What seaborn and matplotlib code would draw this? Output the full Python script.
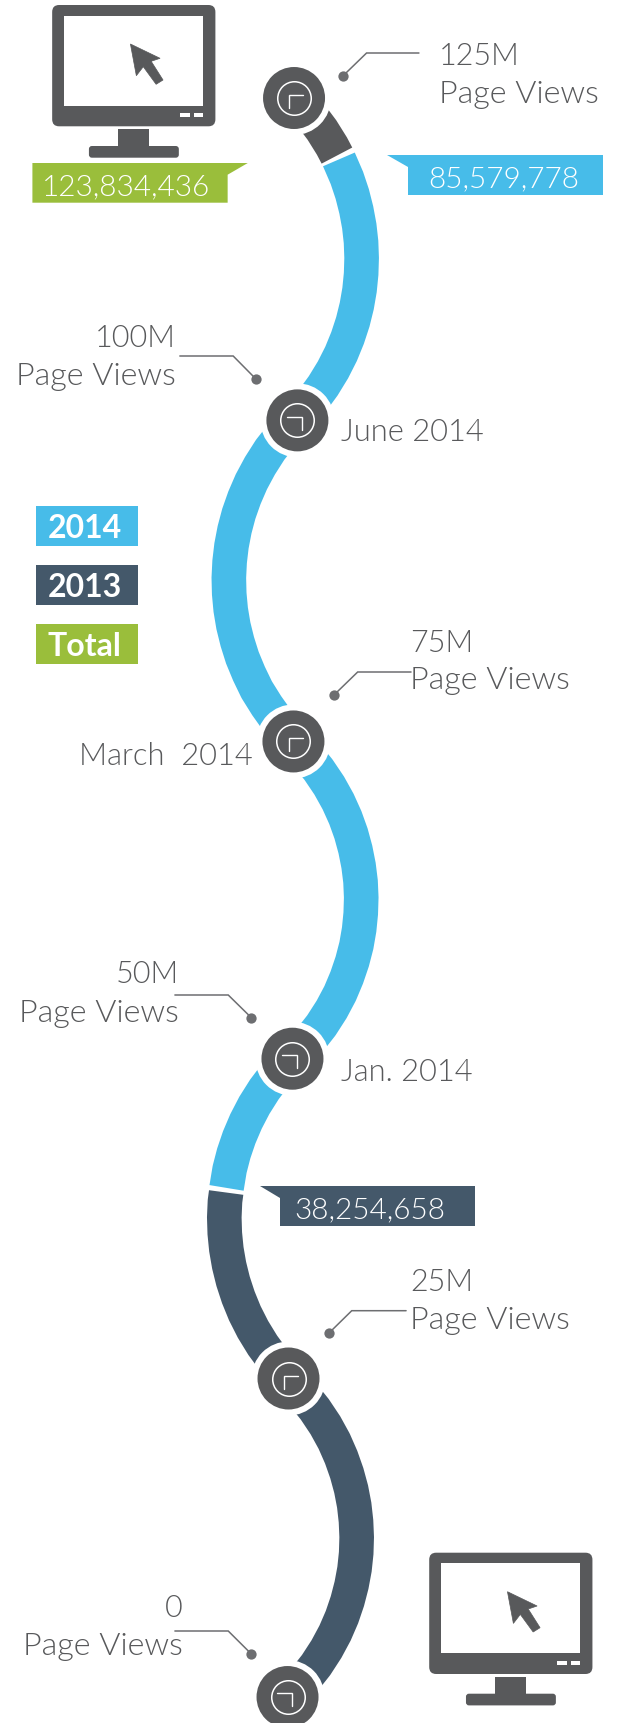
import numpy as np
import pandas as pd
import matplotlib
matplotlib.use("Agg")
import matplotlib.pyplot as plt
import seaborn as sns
from matplotlib.patches import FancyBboxPatch, Polygon, Rectangle

# ---- data ----
gray_views = [125, 123.75, 122.5, 121.25, 120.5]
gray_pos = [299, 313.7, 325.8, 335.9, 341]
blue_views = [120.2, 118.75, 117.5, 116.25, 115, 113.75, 112.5, 111.25, 110, 108.75, 107.5, 106.25, 105, 103.75, 102.5, 101.25, 100,
              98.75, 97.5, 96.25, 95, 93.75, 92.5, 91.25, 90, 88.75, 87.5, 86.25, 85, 83.75, 82.5, 81.25, 80, 78.75, 77.5, 76.25, 75,
              73.75, 72.5, 71.25, 70, 68.75, 67.5, 66.25, 65, 63.75, 62.5, 61.25, 60, 58.75, 57.5, 56.25, 55, 53.75, 52.5, 51.25, 50,
              48.75, 47.5, 46.25, 45, 43.75, 42.5, 41.25, 39.8]
blue_pos = [343, 351.1, 356.5, 360.6, 363.6, 365.4, 366, 365.5, 363.9, 361.1, 357.1, 351.8, 345.2, 337, 327.1, 315.3, 301,
            286.1, 273.4, 263.1, 254.4, 247.4, 241.7, 237.4, 234.3, 232.4, 231.6, 232, 233.5, 236.2, 240.2, 245.3, 252, 259.8, 269.9, 281.4, 295.5,
            309, 322.3, 333.2, 342.2, 349.5, 355.3, 359.7, 362.9, 364.9, 365.6, 365.1, 363.5, 360.7, 356.5, 351, 344.2, 335.6, 325.2, 312.5, 297.1,
            279.8, 267.6, 257.4, 249, 242.1, 236.6, 232.4, 229.3]
dark_views = [39.44, 38.75, 37.5, 36.25, 35, 33.75, 32.5, 31.25, 30, 28.75, 27.5, 26.25, 25,
              23.75, 22.5, 21.25, 20, 18.75, 17.5, 16.25, 15, 13.75, 12.5, 11.25, 10, 8.75, 7.5, 6.25, 5, 3.75, 2.5, 1.25, 0]
dark_pos = [228.9, 227.7, 227, 227.5, 229.1, 231.9, 235.9, 241.2, 247.8, 256, 265.9, 277.8, 292.2,
            305.5, 318.5, 329.3, 338.2, 345.3, 351, 355.4, 358.5, 360.3, 361, 360.5, 358.8, 355.8, 351.6, 346.1, 339.1, 330.4, 319.9, 307.1, 291.5]

node_views = [125, 99.8, 74.7, 49.9, 24.9, 0]
node_pos = [297.6, 301, 297, 296, 292, 291]

milestones = ["125M", "100M", "75M", "50M", "25M", "0"]
dates = ["June 2014", "March  2014", "Jan. 2014"]
totals = ["123,834,436", "85,579,778", "38,254,658"]
legend_labels = ["2014", "2013", "Total"]

BLUE, NAVY, GREEN, GRAY = "#47BCE9", "#44586A", "#9ABE3B", "#58595B"
LINE = "#6D6E71"

sns.set_theme(style="white")
plt.rcParams["font.family"] = ["Lato", "DejaVu Sans"]
W, H = 620, 1724
XMAX = 627.5
fig = plt.figure(figsize=(W / 100, H / 100), dpi=100, facecolor="white")

# main axes: x in horizontal position, y in page views (millions)
ax = fig.add_axes([0, 0, 1, 1])
ax.set_xlim(0, XMAX)
ax.set_ylim(-2.03, 132.74)
ax.axis("off")

road = pd.concat([
    pd.DataFrame({"views": gray_views, "pos": gray_pos, "part": "Other"}),
    pd.DataFrame({"views": blue_views, "pos": blue_pos, "part": "2014"}),
    pd.DataFrame({"views": dark_views, "pos": dark_pos, "part": "2013"}),
])
sns.lineplot(data=road, x="pos", y="views", hue="part",
             hue_order=["Other", "2014", "2013"],
             palette={"Other": GRAY, "2014": BLUE, "2013": NAVY},
             estimator=None, sort=False, legend=False, ax=ax,
             linewidth=34.6 * 0.72, solid_capstyle="butt", solid_joinstyle="round")

nodes = pd.DataFrame({"views": node_views, "pos": node_pos})
for diam, face, edge, lw in [(74, "white", "none", 0), (62, GRAY, "none", 0), (33.5, GRAY, "white", 1.1)]:
    sns.scatterplot(data=nodes, x="pos", y="views", s=(diam * 0.72) ** 2, color=face,
                    edgecolor=edge, linewidth=lw, legend=False, ax=ax, zorder=5, clip_on=False)
ax.set_xlim(0, XMAX)
ax.set_ylim(-2.03, 132.74)
ax.axis("off")

# overlay axes in pixels for annotation furniture
ov = fig.add_axes([0, 0, 1, 1], facecolor="none")
ov.set_xlim(0, XMAX)
ov.set_ylim(H, 0)
ov.axis("off")

# clock hands inside the nodes
px_nodes = [(297.6, 99), (301, 421), (297, 742), (296, 1059), (292, 1380), (291, 1698)]
for i, (cx, cy) in enumerate(px_nodes):
    if i % 2 == 0:
        xs = [cx + 9.5, cx - 4.6, cx - 4.6]
    else:
        xs = [cx - 10.5, cx + 4.6, cx + 4.6]
    ys = [cy - 3.5, cy - 3.5, cy + 9.5]
    ov.plot(xs, ys, color="white", lw=1.0, solid_joinstyle="miter", zorder=7)


def monitor(dx, dy):
    ov.add_patch(FancyBboxPatch((52.8 + 5 + dx, 6 + 5 + dy), 165.2 - 10, 121.3 - 10,
                                boxstyle="round,pad=5,rounding_size=7", fc=GRAY, ec="none"))
    ov.add_patch(Rectangle((65 + dx, 16.7 + dy), 140, 90, fc="white", ec="none"))
    for a, b in [(182, 192), (196, 205)]:
        ov.add_patch(Rectangle((a + dx, 114.3 + dy), b - a, 3.8, fc="white", ec="none"))
    ov.add_patch(Rectangle((119 + dx, 130 + dy), 32, 18, fc=GRAY, ec="none"))
    ov.add_patch(FancyBboxPatch((93 + dx, 150 + dy), 85, 5.7,
                                boxstyle="round,pad=3,rounding_size=3", fc=GRAY, ec="none"))
    arrow = [(132, 45), (162, 59.3), (153, 62.3), (165, 81), (158, 85.3), (145, 67.7), (138, 76.7)]
    ov.add_patch(Polygon([(x + dx, y + dy) for x, y in arrow], closed=True, fc=GRAY, ec=GRAY, lw=0.5))


monitor(0, 0)
monitor(381.6, 1547.7)

# flags with the totals
flags = [
    ([(32.8, 164), (250.8, 164), (230.4, 175.7), (230.4, 203.7), (32.8, 203.7)], GREEN, 127.3, 195, 0),
    ([(392, 156), (610.4, 156), (610.4, 195.7), (412.8, 195.7), (412.8, 168)], BLUE, 510, 187.7, 1),
    ([(263, 1187), (481, 1187), (481, 1226.7), (283.6, 1226.7), (283.6, 1199)], NAVY, 374.5, 1218, 2),
]
for pts, col, tx, ty, idx in flags:
    ov.add_patch(Polygon(pts, closed=True, fc=col, ec="none"))
    ov.text(tx, ty, totals[idx], ha="center", va="baseline", fontweight=300, fontsize=21.4, color="white")

# legend boxes
for (y0, col), lab in zip([(507, BLUE), (566, NAVY), (625, GREEN)], legend_labels):
    ov.add_patch(Rectangle((36.4, y0), 103.2, 40, fc=col, ec="none"))
    ov.text(48.5, y0 + 31, lab, ha="left", va="baseline", fontweight="bold", fontsize=23, color="white")

# milestone labels
LIGHT = dict(fontweight=300, color=GRAY)
LBL = [(0, "left", 444.5, 65, 102.7), (1, "right", 178, 347, 385), (2, "left", 415, 651.7, 689),
       (3, "right", 181, 983, 1022), (4, "left", 415, 1291, 1329), (5, "right", 185, 1617, 1655)]
for i, ha, x, y1, y2 in LBL:
    ov.text(x, y1, milestones[i], ha=ha, va="baseline", fontsize=22, **LIGHT)
    ov.text(x, y2, "Page Views", ha=ha, va="baseline", fontsize=23.3, **LIGHT)

# date labels
for lab, x, y, ha in zip(dates, [345, 256, 345], [441.5, 765, 1081], ["left", "right", "left"]):
    ov.text(x, y, lab, ha=ha, va="baseline", fontsize=22.2, **LIGHT)

# callouts: polyline with a dot at its end
callouts = [
    [(424, 54), (371, 54), (347, 77)],
    [(182, 357), (236, 357), (259, 380)],
    [(416, 673), (362, 673), (338, 696)],
    [(177, 996), (231, 996), (254.4, 1018.7)],
    [(411, 1311.7), (356, 1311.7), (333, 1334)],
    [(177, 1632), (231, 1632), (254.4, 1655)],
]
for pts in callouts:
    xs, ys = zip(*pts)
    ov.plot(xs, ys, color=LINE, lw=1.1, solid_joinstyle="miter")
    ov.plot(xs[-1], ys[-1], "o", color=LINE, ms=7.4, mew=0)

fig.savefig("out.png", dpi=100, facecolor="white")
